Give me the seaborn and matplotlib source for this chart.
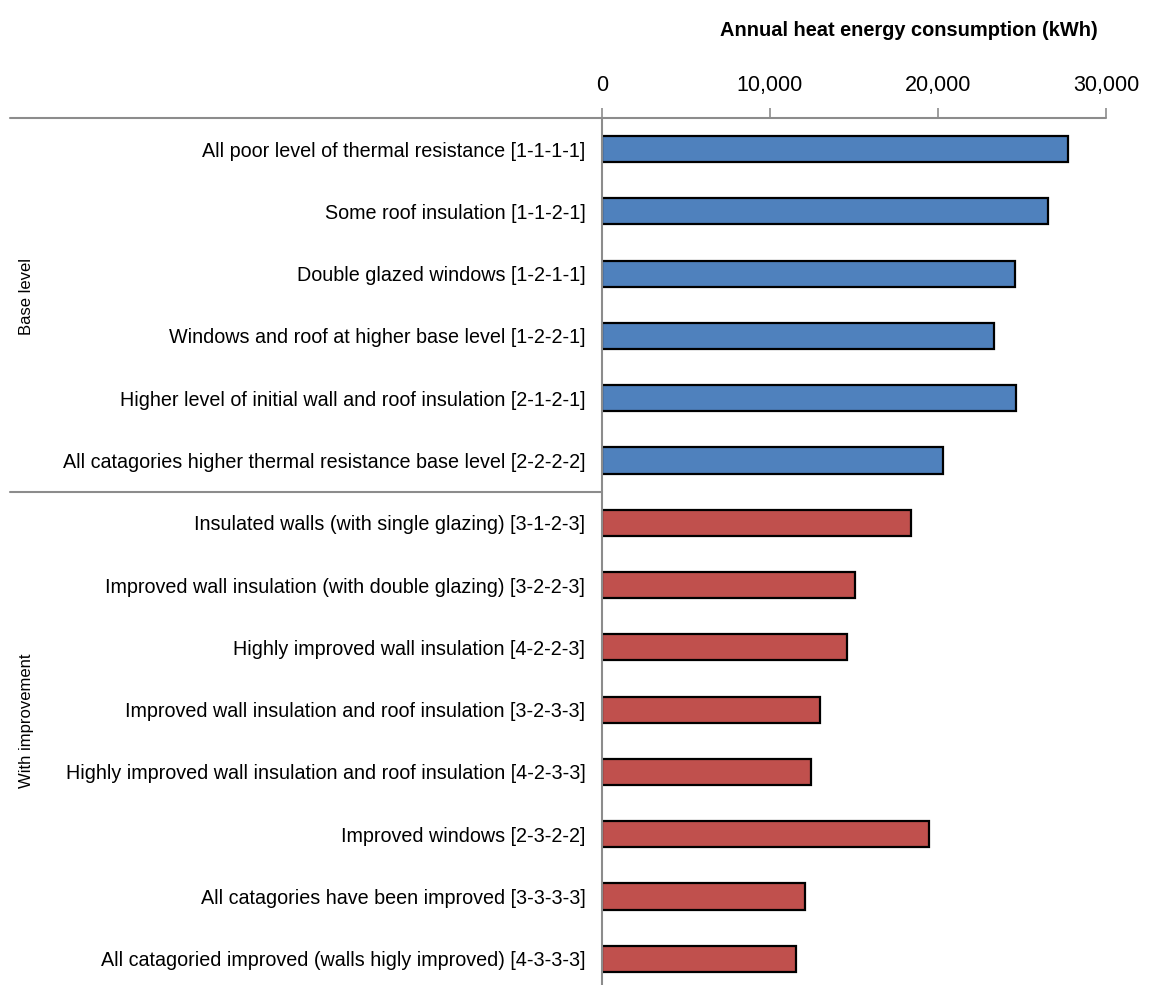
import pandas as pd
import matplotlib.pyplot as plt
import matplotlib.transforms as mtransforms
import seaborn as sns

# scenario labels, top to bottom
labels = [
    'All poor level of thermal resistance [1-1-1-1]',
    'Some roof insulation [1-1-2-1]',
    'Double glazed windows [1-2-1-1]',
    'Windows and roof at higher base level [1-2-2-1]',
    'Higher level of initial wall and roof insulation [2-1-2-1]',
    'All catagories higher thermal resistance base level [2-2-2-2]',
    'Insulated walls (with single glazing) [3-1-2-3]',
    'Improved wall insulation (with double glazing) [3-2-2-3]',
    'Highly improved wall insulation [4-2-2-3]',
    'Improved wall insulation and roof insulation [3-2-3-3]',
    'Highly improved wall insulation and roof insulation [4-2-3-3]',
    'Improved windows [2-3-2-2]',
    'All catagories have been improved [3-3-3-3]',
    'All catagoried improved (walls higly improved) [4-3-3-3]',
]
consumption = [27750, 26550, 24580, 23330, 24640, 20300,
               18390, 15060, 14580, 12980, 12440, 19460, 12080, 11550]
groups = ['Base level'] * 6 + ['With improvement'] * 8
group_colors = {'Base level': '#4F81BD', 'With improvement': '#C0504D'}
xticks = [0, 10000, 20000, 30000]

df = pd.DataFrame({'scenario': labels, 'kwh': consumption, 'group': groups})

sns.set_style('white')
plt.rcParams['font.family'] = ['Liberation Sans', 'DejaVu Sans']
plt.rcParams['text.color'] = 'black'
plt.rcParams['xtick.color'] = 'black'
plt.rcParams['ytick.color'] = 'black'
grey = '#8C8C8C'

fig = plt.figure(figsize=(11.52, 9.85), dpi=100)
ax = fig.add_axes([602 / 1152, -0.005, 504 / 1152, 0.8853])

sns.barplot(data=df, y='scenario', x='kwh', hue='group', palette=group_colors,
            orient='h', dodge=False, width=0.42, edgecolor='black', linewidth=1.6,
            saturation=1, legend=False, ax=ax)

ax.set_xlim(0, 30000)
ax.set_ylim(13.5, -0.5)
ax.xaxis.tick_top()
ax.set_xticks(xticks)
ax.set_xticklabels([f'{v:,}' for v in xticks])
ax.tick_params(axis='x', direction='out', length=7, width=1.2, color=grey,
               labelsize=15.5, labelcolor='black', pad=9, top=True, bottom=False)
ax.tick_params(axis='y', length=0, labelsize=14.25, labelcolor='black', pad=12)
ax.set_xlabel('')
ax.set_ylabel('')
for s in ['right', 'bottom', 'top']:
    ax.spines[s].set_visible(False)
ax.spines['left'].set_color(grey)
ax.spines['left'].set_linewidth(1.5)

# long horizontal rules reaching into the label area
trans = mtransforms.blended_transform_factory(fig.transFigure, ax.transData)
ax.plot([10 / 1152, 1106 / 1152], [-0.5, -0.5], color=grey, lw=1.5,
        transform=trans, clip_on=False)
ax.plot([10 / 1152, 602 / 1152], [5.5, 5.5], color=grey, lw=1.5,
        transform=trans, clip_on=False)

# group labels
ax.text(27 / 1152, 2.36, 'Base level', rotation=90, ha='center', va='center',
        fontsize=12, transform=trans)
ax.text(27 / 1152, 9.18, 'With improvement', rotation=90, ha='center', va='center',
        fontsize=12, transform=trans)

fig.text(1098 / 1152, 1 - 30 / 985, 'Annual heat energy consumption (kWh)',
         ha='right', va='center', fontsize=14.4, fontweight='bold')

fig.savefig('out.png', dpi=100)
